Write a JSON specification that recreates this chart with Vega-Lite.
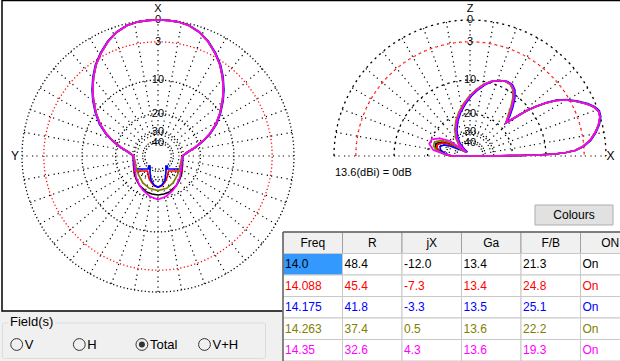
{
"$schema":"https://vega.github.io/schema/vega-lite/v6.json",
"width":620,"height":361,"padding":0,"autosize":{"type":"none"},
"background":"#ffffff",
"config":{"view":{"stroke":null},"font":"Liberation Sans","text":{"font":"Liberation Sans"}},
"datasets":{
"rings":[{"db":0,"lab":"0","r":1},{"db":-3,"lab":"3","r":0.8396},{"db":-10,"lab":"10","r":0.5584},{"db":-20,"lab":"20","r":0.3118},{"db":-30,"lab":"30","r":0.1741},{"db":-40,"lab":"40","r":0.0972}],
"spokesL":[{"ang":0},{"ang":10},{"ang":20},{"ang":30},{"ang":40},{"ang":50},{"ang":60},{"ang":70},{"ang":80},{"ang":90},{"ang":100},{"ang":110},{"ang":120},{"ang":130},{"ang":140},{"ang":150},{"ang":160},{"ang":170},{"ang":180},{"ang":190},{"ang":200},{"ang":210},{"ang":220},{"ang":230},{"ang":240},{"ang":250},{"ang":260},{"ang":270},{"ang":280},{"ang":290},{"ang":300},{"ang":310},{"ang":320},{"ang":330},{"ang":340},{"ang":350}],
"spokesR":[{"ang":0},{"ang":10},{"ang":20},{"ang":30},{"ang":40},{"ang":50},{"ang":60},{"ang":70},{"ang":80},{"ang":90},{"ang":100},{"ang":110},{"ang":120},{"ang":130},{"ang":140},{"ang":150},{"ang":160},{"ang":170},{"ang":180}],
"az":[
{"freq":"14.0","i":0,"x":0.1801,"y":0},{"freq":"14.0","i":1,"x":0.2132,"y":0.0257},{"freq":"14.0","i":2,"x":0.2721,"y":0.0625},{"freq":"14.0","i":3,"x":0.3309,"y":0.1103},{"freq":"14.0","i":4,"x":0.3824,"y":0.1654},{"freq":"14.0","i":5,"x":0.4265,"y":0.2353},{"freq":"14.0","i":6,"x":0.4559,"y":0.3162},{"freq":"14.0","i":7,"x":0.4743,"y":0.4044},{"freq":"14.0","i":8,"x":0.4801,"y":0.4853},{"freq":"14.0","i":9,"x":0.4743,"y":0.5809},{"freq":"14.0","i":10,"x":0.4559,"y":0.6691},{"freq":"14.0","i":11,"x":0.4191,"y":0.7574},{"freq":"14.0","i":12,"x":0.3676,"y":0.8419},{"freq":"14.0","i":13,"x":0.3015,"y":0.9118},{"freq":"14.0","i":14,"x":0.2279,"y":0.9596},{"freq":"14.0","i":15,"x":0.1471,"y":0.9868},{"freq":"14.0","i":16,"x":0.0735,"y":0.9978},{"freq":"14.0","i":17,"x":0,"y":1},{"freq":"14.0","i":18,"x":-0.0735,"y":0.9978},{"freq":"14.0","i":19,"x":-0.1471,"y":0.9868},{"freq":"14.0","i":20,"x":-0.2279,"y":0.9596},{"freq":"14.0","i":21,"x":-0.3015,"y":0.9118},{"freq":"14.0","i":22,"x":-0.3676,"y":0.8419},{"freq":"14.0","i":23,"x":-0.4191,"y":0.7574},{"freq":"14.0","i":24,"x":-0.4559,"y":0.6691},{"freq":"14.0","i":25,"x":-0.4743,"y":0.5809},{"freq":"14.0","i":26,"x":-0.4801,"y":0.4853},{"freq":"14.0","i":27,"x":-0.4743,"y":0.4044},{"freq":"14.0","i":28,"x":-0.4559,"y":0.3162},{"freq":"14.0","i":29,"x":-0.4265,"y":0.2353},{"freq":"14.0","i":30,"x":-0.3824,"y":0.1654},{"freq":"14.0","i":31,"x":-0.3309,"y":0.1103},{"freq":"14.0","i":32,"x":-0.2721,"y":0.0625},{"freq":"14.0","i":33,"x":-0.2132,"y":0.0257},{"freq":"14.0","i":34,"x":-0.1801,"y":0},
{"freq":"14.0","i":35,"x":-0.1801,"y":-0.0662},{"freq":"14.0","i":36,"x":-0.1743,"y":-0.1272},{"freq":"14.0","i":37,"x":-0.1581,"y":-0.1765},{"freq":"14.0","i":38,"x":-0.1375,"y":-0.2132},{"freq":"14.0","i":39,"x":-0.0882,"y":-0.2625},{"freq":"14.0","i":40,"x":-0.0441,"y":-0.2794},{"freq":"14.0","i":41,"x":0,"y":-0.2868},{"freq":"14.0","i":42,"x":0.0441,"y":-0.2794},{"freq":"14.0","i":43,"x":0.0882,"y":-0.2625},{"freq":"14.0","i":44,"x":0.1375,"y":-0.2132},{"freq":"14.0","i":45,"x":0.1581,"y":-0.1765},{"freq":"14.0","i":46,"x":0.1743,"y":-0.1272},{"freq":"14.0","i":47,"x":0.1801,"y":-0.0662},{"freq":"14.0","i":48,"x":0.1801,"y":0},
{"freq":"14.088","i":0,"x":0.1801,"y":0},{"freq":"14.088","i":1,"x":0.2132,"y":0.0257},{"freq":"14.088","i":2,"x":0.2721,"y":0.0625},{"freq":"14.088","i":3,"x":0.3309,"y":0.1103},{"freq":"14.088","i":4,"x":0.3824,"y":0.1654},{"freq":"14.088","i":5,"x":0.4265,"y":0.2353},{"freq":"14.088","i":6,"x":0.4559,"y":0.3162},{"freq":"14.088","i":7,"x":0.4743,"y":0.4044},{"freq":"14.088","i":8,"x":0.4801,"y":0.4853},{"freq":"14.088","i":9,"x":0.4743,"y":0.5809},{"freq":"14.088","i":10,"x":0.4559,"y":0.6691},{"freq":"14.088","i":11,"x":0.4191,"y":0.7574},{"freq":"14.088","i":12,"x":0.3676,"y":0.8419},{"freq":"14.088","i":13,"x":0.3015,"y":0.9118},{"freq":"14.088","i":14,"x":0.2279,"y":0.9596},{"freq":"14.088","i":15,"x":0.1471,"y":0.9868},{"freq":"14.088","i":16,"x":0.0735,"y":0.9978},{"freq":"14.088","i":17,"x":0,"y":1},{"freq":"14.088","i":18,"x":-0.0735,"y":0.9978},{"freq":"14.088","i":19,"x":-0.1471,"y":0.9868},{"freq":"14.088","i":20,"x":-0.2279,"y":0.9596},{"freq":"14.088","i":21,"x":-0.3015,"y":0.9118},{"freq":"14.088","i":22,"x":-0.3676,"y":0.8419},{"freq":"14.088","i":23,"x":-0.4191,"y":0.7574},{"freq":"14.088","i":24,"x":-0.4559,"y":0.6691},{"freq":"14.088","i":25,"x":-0.4743,"y":0.5809},{"freq":"14.088","i":26,"x":-0.4801,"y":0.4853},{"freq":"14.088","i":27,"x":-0.4743,"y":0.4044},{"freq":"14.088","i":28,"x":-0.4559,"y":0.3162},{"freq":"14.088","i":29,"x":-0.4265,"y":0.2353},{"freq":"14.088","i":30,"x":-0.3824,"y":0.1654},{"freq":"14.088","i":31,"x":-0.3309,"y":0.1103},{"freq":"14.088","i":32,"x":-0.2721,"y":0.0625},{"freq":"14.088","i":33,"x":-0.2132,"y":0.0257},{"freq":"14.088","i":34,"x":-0.1801,"y":0},
{"freq":"14.088","i":35,"x":-0.1765,"y":-0.1103},{"freq":"14.088","i":36,"x":-0.0772,"y":-0.1103},{"freq":"14.088","i":37,"x":-0.0699,"y":-0.1471},{"freq":"14.088","i":38,"x":-0.0515,"y":-0.1912},{"freq":"14.088","i":39,"x":-0.0257,"y":-0.2206},{"freq":"14.088","i":40,"x":0,"y":-0.2279},{"freq":"14.088","i":41,"x":0.0257,"y":-0.2206},{"freq":"14.088","i":42,"x":0.0515,"y":-0.1912},{"freq":"14.088","i":43,"x":0.0699,"y":-0.1471},{"freq":"14.088","i":44,"x":0.0772,"y":-0.1103},{"freq":"14.088","i":45,"x":0.1765,"y":-0.1103},{"freq":"14.088","i":46,"x":0.1801,"y":0},
{"freq":"14.175","i":0,"x":0.1819,"y":0},{"freq":"14.175","i":1,"x":0.2153,"y":0.0257},{"freq":"14.175","i":2,"x":0.2748,"y":0.0625},{"freq":"14.175","i":3,"x":0.3342,"y":0.1103},{"freq":"14.175","i":4,"x":0.3862,"y":0.1654},{"freq":"14.175","i":5,"x":0.4308,"y":0.2353},{"freq":"14.175","i":6,"x":0.4605,"y":0.3162},{"freq":"14.175","i":7,"x":0.479,"y":0.4044},{"freq":"14.175","i":8,"x":0.4849,"y":0.4853},{"freq":"14.175","i":9,"x":0.479,"y":0.5809},{"freq":"14.175","i":10,"x":0.4605,"y":0.6691},{"freq":"14.175","i":11,"x":0.4233,"y":0.7574},{"freq":"14.175","i":12,"x":0.3713,"y":0.8419},{"freq":"14.175","i":13,"x":0.3045,"y":0.9118},{"freq":"14.175","i":14,"x":0.2302,"y":0.9596},{"freq":"14.175","i":15,"x":0.1486,"y":0.9868},{"freq":"14.175","i":16,"x":0.0742,"y":0.9978},{"freq":"14.175","i":17,"x":0,"y":1},{"freq":"14.175","i":18,"x":-0.0742,"y":0.9978},{"freq":"14.175","i":19,"x":-0.1486,"y":0.9868},{"freq":"14.175","i":20,"x":-0.2302,"y":0.9596},{"freq":"14.175","i":21,"x":-0.3045,"y":0.9118},{"freq":"14.175","i":22,"x":-0.3713,"y":0.8419},{"freq":"14.175","i":23,"x":-0.4233,"y":0.7574},{"freq":"14.175","i":24,"x":-0.4605,"y":0.6691},{"freq":"14.175","i":25,"x":-0.479,"y":0.5809},{"freq":"14.175","i":26,"x":-0.4849,"y":0.4853},{"freq":"14.175","i":27,"x":-0.479,"y":0.4044},{"freq":"14.175","i":28,"x":-0.4605,"y":0.3162},{"freq":"14.175","i":29,"x":-0.4308,"y":0.2353},{"freq":"14.175","i":30,"x":-0.3862,"y":0.1654},{"freq":"14.175","i":31,"x":-0.3342,"y":0.1103},{"freq":"14.175","i":32,"x":-0.2748,"y":0.0625},{"freq":"14.175","i":33,"x":-0.2153,"y":0.0257},{"freq":"14.175","i":34,"x":-0.1819,"y":0},
{"freq":"14.175","i":35,"x":-0.1728,"y":-0.0956},{"freq":"14.175","i":36,"x":-0.0684,"y":-0.0956},{"freq":"14.175","i":37,"x":-0.0684,"y":-0.0735},{"freq":"14.175","i":38,"x":-0.0588,"y":-0.0735},{"freq":"14.175","i":39,"x":-0.0588,"y":-0.1176},{"freq":"14.175","i":40,"x":-0.0515,"y":-0.1765},{"freq":"14.175","i":41,"x":-0.0294,"y":-0.2132},{"freq":"14.175","i":42,"x":0,"y":-0.2301},{"freq":"14.175","i":43,"x":0.0294,"y":-0.2132},{"freq":"14.175","i":44,"x":0.0515,"y":-0.1765},{"freq":"14.175","i":45,"x":0.0588,"y":-0.1176},{"freq":"14.175","i":46,"x":0.0588,"y":-0.0735},{"freq":"14.175","i":47,"x":0.0684,"y":-0.0735},{"freq":"14.175","i":48,"x":0.0684,"y":-0.0956},{"freq":"14.175","i":49,"x":0.1728,"y":-0.0956},{"freq":"14.175","i":50,"x":0.1819,"y":0},
{"freq":"14.263","i":0,"x":0.1801,"y":0},{"freq":"14.263","i":1,"x":0.2132,"y":0.0257},{"freq":"14.263","i":2,"x":0.2721,"y":0.0625},{"freq":"14.263","i":3,"x":0.3309,"y":0.1103},{"freq":"14.263","i":4,"x":0.3824,"y":0.1654},{"freq":"14.263","i":5,"x":0.4265,"y":0.2353},{"freq":"14.263","i":6,"x":0.4559,"y":0.3162},{"freq":"14.263","i":7,"x":0.4743,"y":0.4044},{"freq":"14.263","i":8,"x":0.4801,"y":0.4853},{"freq":"14.263","i":9,"x":0.4743,"y":0.5809},{"freq":"14.263","i":10,"x":0.4559,"y":0.6691},{"freq":"14.263","i":11,"x":0.4191,"y":0.7574},{"freq":"14.263","i":12,"x":0.3676,"y":0.8419},{"freq":"14.263","i":13,"x":0.3015,"y":0.9118},{"freq":"14.263","i":14,"x":0.2279,"y":0.9596},{"freq":"14.263","i":15,"x":0.1471,"y":0.9868},{"freq":"14.263","i":16,"x":0.0735,"y":0.9978},{"freq":"14.263","i":17,"x":0,"y":1},{"freq":"14.263","i":18,"x":-0.0735,"y":0.9978},{"freq":"14.263","i":19,"x":-0.1471,"y":0.9868},{"freq":"14.263","i":20,"x":-0.2279,"y":0.9596},{"freq":"14.263","i":21,"x":-0.3015,"y":0.9118},{"freq":"14.263","i":22,"x":-0.3676,"y":0.8419},{"freq":"14.263","i":23,"x":-0.4191,"y":0.7574},{"freq":"14.263","i":24,"x":-0.4559,"y":0.6691},{"freq":"14.263","i":25,"x":-0.4743,"y":0.5809},{"freq":"14.263","i":26,"x":-0.4801,"y":0.4853},{"freq":"14.263","i":27,"x":-0.4743,"y":0.4044},{"freq":"14.263","i":28,"x":-0.4559,"y":0.3162},{"freq":"14.263","i":29,"x":-0.4265,"y":0.2353},{"freq":"14.263","i":30,"x":-0.3824,"y":0.1654},{"freq":"14.263","i":31,"x":-0.3309,"y":0.1103},{"freq":"14.263","i":32,"x":-0.2721,"y":0.0625},{"freq":"14.263","i":33,"x":-0.2132,"y":0.0257},{"freq":"14.263","i":34,"x":-0.1801,"y":0},
{"freq":"14.263","i":35,"x":-0.1691,"y":-0.0368},{"freq":"14.263","i":36,"x":-0.1618,"y":-0.0809},{"freq":"14.263","i":37,"x":-0.1434,"y":-0.1397},{"freq":"14.263","i":38,"x":-0.1103,"y":-0.1985},{"freq":"14.263","i":39,"x":-0.064,"y":-0.2375},{"freq":"14.263","i":40,"x":0,"y":-0.2551},{"freq":"14.263","i":41,"x":0.064,"y":-0.2375},{"freq":"14.263","i":42,"x":0.1103,"y":-0.1985},{"freq":"14.263","i":43,"x":0.1434,"y":-0.1397},{"freq":"14.263","i":44,"x":0.1618,"y":-0.0809},{"freq":"14.263","i":45,"x":0.1691,"y":-0.0368},{"freq":"14.263","i":46,"x":0.1801,"y":0},
{"freq":"14.35","i":0,"x":0.1801,"y":0},{"freq":"14.35","i":1,"x":0.2132,"y":0.0257},{"freq":"14.35","i":2,"x":0.2721,"y":0.0625},{"freq":"14.35","i":3,"x":0.3309,"y":0.1103},{"freq":"14.35","i":4,"x":0.3824,"y":0.1654},{"freq":"14.35","i":5,"x":0.4265,"y":0.2353},{"freq":"14.35","i":6,"x":0.4559,"y":0.3162},{"freq":"14.35","i":7,"x":0.4743,"y":0.4044},{"freq":"14.35","i":8,"x":0.4801,"y":0.4853},{"freq":"14.35","i":9,"x":0.4743,"y":0.5809},{"freq":"14.35","i":10,"x":0.4559,"y":0.6691},{"freq":"14.35","i":11,"x":0.4191,"y":0.7574},{"freq":"14.35","i":12,"x":0.3676,"y":0.8419},{"freq":"14.35","i":13,"x":0.3015,"y":0.9118},{"freq":"14.35","i":14,"x":0.2279,"y":0.9596},{"freq":"14.35","i":15,"x":0.1471,"y":0.9868},{"freq":"14.35","i":16,"x":0.0735,"y":0.9978},{"freq":"14.35","i":17,"x":0,"y":1},{"freq":"14.35","i":18,"x":-0.0735,"y":0.9978},{"freq":"14.35","i":19,"x":-0.1471,"y":0.9868},{"freq":"14.35","i":20,"x":-0.2279,"y":0.9596},{"freq":"14.35","i":21,"x":-0.3015,"y":0.9118},{"freq":"14.35","i":22,"x":-0.3676,"y":0.8419},{"freq":"14.35","i":23,"x":-0.4191,"y":0.7574},{"freq":"14.35","i":24,"x":-0.4559,"y":0.6691},{"freq":"14.35","i":25,"x":-0.4743,"y":0.5809},{"freq":"14.35","i":26,"x":-0.4801,"y":0.4853},{"freq":"14.35","i":27,"x":-0.4743,"y":0.4044},{"freq":"14.35","i":28,"x":-0.4559,"y":0.3162},{"freq":"14.35","i":29,"x":-0.4265,"y":0.2353},{"freq":"14.35","i":30,"x":-0.3824,"y":0.1654},{"freq":"14.35","i":31,"x":-0.3309,"y":0.1103},{"freq":"14.35","i":32,"x":-0.2721,"y":0.0625},{"freq":"14.35","i":33,"x":-0.2132,"y":0.0257},{"freq":"14.35","i":34,"x":-0.1801,"y":0},
{"freq":"14.35","i":35,"x":-0.1728,"y":-0.0662},{"freq":"14.35","i":36,"x":-0.1618,"y":-0.1522},{"freq":"14.35","i":37,"x":-0.1397,"y":-0.2059},{"freq":"14.35","i":38,"x":-0.1125,"y":-0.25},{"freq":"14.35","i":39,"x":-0.0588,"y":-0.2978},{"freq":"14.35","i":40,"x":0,"y":-0.3199},{"freq":"14.35","i":41,"x":0.0588,"y":-0.2978},{"freq":"14.35","i":42,"x":0.1125,"y":-0.25},{"freq":"14.35","i":43,"x":0.1397,"y":-0.2059},{"freq":"14.35","i":44,"x":0.1618,"y":-0.1522},{"freq":"14.35","i":45,"x":0.1728,"y":-0.0662},{"freq":"14.35","i":46,"x":0.1801,"y":0}
],
"el":[
{"freq":"14.0","i":0,"x":-0.1324,"y":0},{"freq":"14.0","i":1,"x":0,"y":0},{"freq":"14.0","i":2,"x":0.2206,"y":0.0015},{"freq":"14.0","i":3,"x":0.3676,"y":0.0037},{"freq":"14.0","i":4,"x":0.4926,"y":0.0074},{"freq":"14.0","i":5,"x":0.625,"y":0.0147},{"freq":"14.0","i":6,"x":0.7059,"y":0.0257},{"freq":"14.0","i":7,"x":0.7721,"y":0.0404},{"freq":"14.0","i":8,"x":0.8309,"y":0.0699},{"freq":"14.0","i":9,"x":0.8824,"y":0.114},{"freq":"14.0","i":10,"x":0.9191,"y":0.1691},{"freq":"14.0","i":11,"x":0.9449,"y":0.2279},{"freq":"14.0","i":12,"x":0.9559,"y":0.2868},{"freq":"14.0","i":13,"x":0.9449,"y":0.3309},{"freq":"14.0","i":14,"x":0.9118,"y":0.3603},{"freq":"14.0","i":15,"x":0.8603,"y":0.3824},{"freq":"14.0","i":16,"x":0.7868,"y":0.4007},{"freq":"14.0","i":17,"x":0.7059,"y":0.4118},{"freq":"14.0","i":18,"x":0.6324,"y":0.4081},{"freq":"14.0","i":19,"x":0.5588,"y":0.3897},{"freq":"14.0","i":20,"x":0.4853,"y":0.364},{"freq":"14.0","i":21,"x":0.4118,"y":0.3309},{"freq":"14.0","i":22,"x":0.3382,"y":0.2868},{"freq":"14.0","i":23,"x":0.2647,"y":0.2449},
{"freq":"14.0","i":24,"x":0.2831,"y":0.2941},{"freq":"14.0","i":25,"x":0.3051,"y":0.3603},{"freq":"14.0","i":26,"x":0.3199,"y":0.4265},{"freq":"14.0","i":27,"x":0.3199,"y":0.4853},{"freq":"14.0","i":28,"x":0.3015,"y":0.5257},{"freq":"14.0","i":29,"x":0.2647,"y":0.5478},{"freq":"14.0","i":30,"x":0.2132,"y":0.5551},{"freq":"14.0","i":31,"x":0.1544,"y":0.5478},{"freq":"14.0","i":32,"x":0.1029,"y":0.5257},{"freq":"14.0","i":33,"x":0.0515,"y":0.489},{"freq":"14.0","i":34,"x":0,"y":0.4412},{"freq":"14.0","i":35,"x":-0.0441,"y":0.3824},{"freq":"14.0","i":36,"x":-0.0772,"y":0.3235},{"freq":"14.0","i":37,"x":-0.0993,"y":0.2574},{"freq":"14.0","i":38,"x":-0.1066,"y":0.1912},{"freq":"14.0","i":39,"x":-0.0993,"y":0.1324},{"freq":"14.0","i":40,"x":-0.0809,"y":0.0882},{"freq":"14.0","i":41,"x":-0.0515,"y":0.0515},{"freq":"14.0","i":42,"x":-0.0294,"y":0.0294},
{"freq":"14.0","i":43,"x":-0.0882,"y":0.0588},{"freq":"14.0","i":44,"x":-0.1471,"y":0.0919},{"freq":"14.0","i":45,"x":-0.2059,"y":0.1029},{"freq":"14.0","i":46,"x":-0.25,"y":0.0919},{"freq":"14.0","i":47,"x":-0.2537,"y":0.0662},{"freq":"14.0","i":48,"x":-0.2279,"y":0.0368},{"freq":"14.0","i":49,"x":-0.1838,"y":0.0147},{"freq":"14.0","i":50,"x":-0.1471,"y":0.0037},{"freq":"14.0","i":51,"x":-0.1324,"y":0},
{"freq":"14.088","i":0,"x":-0.1324,"y":0},{"freq":"14.088","i":1,"x":0,"y":0},{"freq":"14.088","i":2,"x":0.2206,"y":0.0015},{"freq":"14.088","i":3,"x":0.3676,"y":0.0037},{"freq":"14.088","i":4,"x":0.4926,"y":0.0074},{"freq":"14.088","i":5,"x":0.625,"y":0.0147},{"freq":"14.088","i":6,"x":0.7059,"y":0.0257},{"freq":"14.088","i":7,"x":0.7721,"y":0.0404},{"freq":"14.088","i":8,"x":0.8309,"y":0.0699},{"freq":"14.088","i":9,"x":0.8824,"y":0.114},{"freq":"14.088","i":10,"x":0.9191,"y":0.1691},{"freq":"14.088","i":11,"x":0.9449,"y":0.2279},{"freq":"14.088","i":12,"x":0.9559,"y":0.2868},{"freq":"14.088","i":13,"x":0.9449,"y":0.3309},{"freq":"14.088","i":14,"x":0.9118,"y":0.3603},{"freq":"14.088","i":15,"x":0.8603,"y":0.3824},{"freq":"14.088","i":16,"x":0.7868,"y":0.4007},{"freq":"14.088","i":17,"x":0.7059,"y":0.4118},{"freq":"14.088","i":18,"x":0.6324,"y":0.4081},{"freq":"14.088","i":19,"x":0.5588,"y":0.3897},{"freq":"14.088","i":20,"x":0.4853,"y":0.364},{"freq":"14.088","i":21,"x":0.4118,"y":0.3309},{"freq":"14.088","i":22,"x":0.3382,"y":0.2868},{"freq":"14.088","i":23,"x":0.2647,"y":0.2449},
{"freq":"14.088","i":24,"x":0.2881,"y":0.2941},{"freq":"14.088","i":25,"x":0.3101,"y":0.3603},{"freq":"14.088","i":26,"x":0.3249,"y":0.4265},{"freq":"14.088","i":27,"x":0.3249,"y":0.4853},{"freq":"14.088","i":28,"x":0.3065,"y":0.5257},{"freq":"14.088","i":29,"x":0.2697,"y":0.5478},{"freq":"14.088","i":30,"x":0.2182,"y":0.5551},{"freq":"14.088","i":31,"x":0.1594,"y":0.5478},{"freq":"14.088","i":32,"x":0.1079,"y":0.5257},{"freq":"14.088","i":33,"x":0.0565,"y":0.489},{"freq":"14.088","i":34,"x":0.005,"y":0.4412},{"freq":"14.088","i":35,"x":-0.0391,"y":0.3824},{"freq":"14.088","i":36,"x":-0.0722,"y":0.3235},{"freq":"14.088","i":37,"x":-0.0943,"y":0.2574},{"freq":"14.088","i":38,"x":-0.1016,"y":0.1912},{"freq":"14.088","i":39,"x":-0.0943,"y":0.1324},{"freq":"14.088","i":40,"x":-0.0759,"y":0.0882},{"freq":"14.088","i":41,"x":-0.0465,"y":0.0515},{"freq":"14.088","i":42,"x":-0.0244,"y":0.0294},
{"freq":"14.088","i":43,"x":-0.0882,"y":0.0551},{"freq":"14.088","i":44,"x":-0.1471,"y":0.0846},{"freq":"14.088","i":45,"x":-0.1985,"y":0.0956},{"freq":"14.088","i":46,"x":-0.239,"y":0.0846},{"freq":"14.088","i":47,"x":-0.2426,"y":0.0588},{"freq":"14.088","i":48,"x":-0.2169,"y":0.0331},{"freq":"14.088","i":49,"x":-0.1765,"y":0.011},{"freq":"14.088","i":50,"x":-0.1471,"y":0.0022},{"freq":"14.088","i":51,"x":-0.1324,"y":0},
{"freq":"14.175","i":0,"x":-0.1324,"y":0},{"freq":"14.175","i":1,"x":0,"y":0},{"freq":"14.175","i":2,"x":0.2206,"y":0.0015},{"freq":"14.175","i":3,"x":0.3676,"y":0.0037},{"freq":"14.175","i":4,"x":0.4926,"y":0.0074},{"freq":"14.175","i":5,"x":0.625,"y":0.0147},{"freq":"14.175","i":6,"x":0.7059,"y":0.0257},{"freq":"14.175","i":7,"x":0.7721,"y":0.0404},{"freq":"14.175","i":8,"x":0.8359,"y":0.0703},{"freq":"14.175","i":9,"x":0.8877,"y":0.1147},{"freq":"14.175","i":10,"x":0.9246,"y":0.1701},{"freq":"14.175","i":11,"x":0.9506,"y":0.2293},{"freq":"14.175","i":12,"x":0.9616,"y":0.2885},{"freq":"14.175","i":13,"x":0.9506,"y":0.3329},{"freq":"14.175","i":14,"x":0.9173,"y":0.3625},{"freq":"14.175","i":15,"x":0.8655,"y":0.3847},{"freq":"14.175","i":16,"x":0.7915,"y":0.4031},{"freq":"14.175","i":17,"x":0.7101,"y":0.4143},{"freq":"14.175","i":18,"x":0.6362,"y":0.4106},{"freq":"14.175","i":19,"x":0.5622,"y":0.392},{"freq":"14.175","i":20,"x":0.4882,"y":0.3662},{"freq":"14.175","i":21,"x":0.4118,"y":0.3309},{"freq":"14.175","i":22,"x":0.3382,"y":0.2868},{"freq":"14.175","i":23,"x":0.2647,"y":0.2449},
{"freq":"14.175","i":24,"x":0.2931,"y":0.2941},{"freq":"14.175","i":25,"x":0.3151,"y":0.3603},{"freq":"14.175","i":26,"x":0.3299,"y":0.4265},{"freq":"14.175","i":27,"x":0.3299,"y":0.4853},{"freq":"14.175","i":28,"x":0.3115,"y":0.5257},{"freq":"14.175","i":29,"x":0.2747,"y":0.5478},{"freq":"14.175","i":30,"x":0.2232,"y":0.5551},{"freq":"14.175","i":31,"x":0.1644,"y":0.5478},{"freq":"14.175","i":32,"x":0.1129,"y":0.5257},{"freq":"14.175","i":33,"x":0.0615,"y":0.489},{"freq":"14.175","i":34,"x":0.01,"y":0.4412},{"freq":"14.175","i":35,"x":-0.0341,"y":0.3824},{"freq":"14.175","i":36,"x":-0.0672,"y":0.3235},{"freq":"14.175","i":37,"x":-0.0893,"y":0.2574},{"freq":"14.175","i":38,"x":-0.0966,"y":0.1912},{"freq":"14.175","i":39,"x":-0.0893,"y":0.1324},{"freq":"14.175","i":40,"x":-0.0709,"y":0.0882},{"freq":"14.175","i":41,"x":-0.0415,"y":0.0515},{"freq":"14.175","i":42,"x":-0.0194,"y":0.0294},
{"freq":"14.175","i":43,"x":-0.0882,"y":0.0515},{"freq":"14.175","i":44,"x":-0.1471,"y":0.0735},{"freq":"14.175","i":45,"x":-0.1912,"y":0.0809},{"freq":"14.175","i":46,"x":-0.2206,"y":0.0699},{"freq":"14.175","i":47,"x":-0.2169,"y":0.0441},{"freq":"14.175","i":48,"x":-0.1838,"y":0.0184},{"freq":"14.175","i":49,"x":-0.1397,"y":0.0022},{"freq":"14.175","i":50,"x":-0.1324,"y":0},
{"freq":"14.263","i":0,"x":-0.1324,"y":0},{"freq":"14.263","i":1,"x":0,"y":0},{"freq":"14.263","i":2,"x":0.2206,"y":0.0015},{"freq":"14.263","i":3,"x":0.3676,"y":0.0037},{"freq":"14.263","i":4,"x":0.4926,"y":0.0074},{"freq":"14.263","i":5,"x":0.625,"y":0.0147},{"freq":"14.263","i":6,"x":0.7059,"y":0.0257},{"freq":"14.263","i":7,"x":0.7721,"y":0.0404},{"freq":"14.263","i":8,"x":0.8309,"y":0.0699},{"freq":"14.263","i":9,"x":0.8824,"y":0.114},{"freq":"14.263","i":10,"x":0.9191,"y":0.1691},{"freq":"14.263","i":11,"x":0.9449,"y":0.2279},{"freq":"14.263","i":12,"x":0.9559,"y":0.2868},{"freq":"14.263","i":13,"x":0.9449,"y":0.3309},{"freq":"14.263","i":14,"x":0.9118,"y":0.3603},{"freq":"14.263","i":15,"x":0.8603,"y":0.3824},{"freq":"14.263","i":16,"x":0.7868,"y":0.4007},{"freq":"14.263","i":17,"x":0.7059,"y":0.4118},{"freq":"14.263","i":18,"x":0.6324,"y":0.4081},{"freq":"14.263","i":19,"x":0.5588,"y":0.3897},{"freq":"14.263","i":20,"x":0.4853,"y":0.364},{"freq":"14.263","i":21,"x":0.4118,"y":0.3309},{"freq":"14.263","i":22,"x":0.3382,"y":0.2868},{"freq":"14.263","i":23,"x":0.2647,"y":0.2449},
{"freq":"14.263","i":24,"x":0.2781,"y":0.2941},{"freq":"14.263","i":25,"x":0.3001,"y":0.3603},{"freq":"14.263","i":26,"x":0.3149,"y":0.4265},{"freq":"14.263","i":27,"x":0.3149,"y":0.4853},{"freq":"14.263","i":28,"x":0.2965,"y":0.5257},{"freq":"14.263","i":29,"x":0.2597,"y":0.5478},{"freq":"14.263","i":30,"x":0.2082,"y":0.5551},{"freq":"14.263","i":31,"x":0.1494,"y":0.5478},{"freq":"14.263","i":32,"x":0.0979,"y":0.5257},{"freq":"14.263","i":33,"x":0.0465,"y":0.489},{"freq":"14.263","i":34,"x":-0.005,"y":0.4412},{"freq":"14.263","i":35,"x":-0.0491,"y":0.3824},{"freq":"14.263","i":36,"x":-0.0822,"y":0.3235},{"freq":"14.263","i":37,"x":-0.1043,"y":0.2574},{"freq":"14.263","i":38,"x":-0.1116,"y":0.1912},{"freq":"14.263","i":39,"x":-0.1043,"y":0.1324},{"freq":"14.263","i":40,"x":-0.0859,"y":0.0882},{"freq":"14.263","i":41,"x":-0.0565,"y":0.0515},{"freq":"14.263","i":42,"x":-0.0344,"y":0.0294},
{"freq":"14.263","i":43,"x":-0.0882,"y":0.0625},{"freq":"14.263","i":44,"x":-0.1471,"y":0.0993},{"freq":"14.263","i":45,"x":-0.2132,"y":0.114},{"freq":"14.263","i":46,"x":-0.261,"y":0.1029},{"freq":"14.263","i":47,"x":-0.2684,"y":0.0735},{"freq":"14.263","i":48,"x":-0.2426,"y":0.0404},{"freq":"14.263","i":49,"x":-0.1912,"y":0.0147},{"freq":"14.263","i":50,"x":-0.1471,"y":0.0037},{"freq":"14.263","i":51,"x":-0.1324,"y":0},
{"freq":"14.35","i":0,"x":-0.1324,"y":0},{"freq":"14.35","i":1,"x":0,"y":0},{"freq":"14.35","i":2,"x":0.2206,"y":0.0015},{"freq":"14.35","i":3,"x":0.3676,"y":0.0037},{"freq":"14.35","i":4,"x":0.4926,"y":0.0074},{"freq":"14.35","i":5,"x":0.625,"y":0.0147},{"freq":"14.35","i":6,"x":0.7059,"y":0.0257},{"freq":"14.35","i":7,"x":0.7721,"y":0.0404},{"freq":"14.35","i":8,"x":0.8309,"y":0.0699},{"freq":"14.35","i":9,"x":0.8824,"y":0.114},{"freq":"14.35","i":10,"x":0.9191,"y":0.1691},{"freq":"14.35","i":11,"x":0.9449,"y":0.2279},{"freq":"14.35","i":12,"x":0.9559,"y":0.2868},{"freq":"14.35","i":13,"x":0.9449,"y":0.3309},{"freq":"14.35","i":14,"x":0.9118,"y":0.3603},{"freq":"14.35","i":15,"x":0.8603,"y":0.3824},{"freq":"14.35","i":16,"x":0.7868,"y":0.4007},{"freq":"14.35","i":17,"x":0.7059,"y":0.4118},{"freq":"14.35","i":18,"x":0.6324,"y":0.4081},{"freq":"14.35","i":19,"x":0.5588,"y":0.3897},{"freq":"14.35","i":20,"x":0.4853,"y":0.364},{"freq":"14.35","i":21,"x":0.4118,"y":0.3309},{"freq":"14.35","i":22,"x":0.3382,"y":0.2868},{"freq":"14.35","i":23,"x":0.2647,"y":0.2449},
{"freq":"14.35","i":24,"x":0.2861,"y":0.2941},{"freq":"14.35","i":25,"x":0.3081,"y":0.3603},{"freq":"14.35","i":26,"x":0.3229,"y":0.4265},{"freq":"14.35","i":27,"x":0.3229,"y":0.4853},{"freq":"14.35","i":28,"x":0.3045,"y":0.5257},{"freq":"14.35","i":29,"x":0.2677,"y":0.5478},{"freq":"14.35","i":30,"x":0.2162,"y":0.5551},{"freq":"14.35","i":31,"x":0.1574,"y":0.5478},{"freq":"14.35","i":32,"x":0.1059,"y":0.5257},{"freq":"14.35","i":33,"x":0.0545,"y":0.489},{"freq":"14.35","i":34,"x":0.003,"y":0.4412},{"freq":"14.35","i":35,"x":-0.0411,"y":0.3824},{"freq":"14.35","i":36,"x":-0.0742,"y":0.3235},{"freq":"14.35","i":37,"x":-0.0963,"y":0.2574},{"freq":"14.35","i":38,"x":-0.1036,"y":0.1912},{"freq":"14.35","i":39,"x":-0.0963,"y":0.1324},{"freq":"14.35","i":40,"x":-0.0779,"y":0.0882},{"freq":"14.35","i":41,"x":-0.0485,"y":0.0515},{"freq":"14.35","i":42,"x":-0.0264,"y":0.0294},
{"freq":"14.35","i":43,"x":-0.086,"y":0.0684},{"freq":"14.35","i":44,"x":-0.1471,"y":0.1103},{"freq":"14.35","i":45,"x":-0.2206,"y":0.1301},{"freq":"14.35","i":46,"x":-0.2816,"y":0.1228},{"freq":"14.35","i":47,"x":-0.2993,"y":0.0882},{"freq":"14.35","i":48,"x":-0.2699,"y":0.0441},{"freq":"14.35","i":49,"x":-0.2081,"y":0.0199},{"freq":"14.35","i":50,"x":-0.1471,"y":0.0051},{"freq":"14.35","i":51,"x":-0.1324,"y":0}
],
"cells":[
{"row":"head","col":"Freq","val":"Freq"},{"row":"head","col":"R","val":"R"},{"row":"head","col":"jX","val":"jX"},{"row":"head","col":"Ga","val":"Ga"},{"row":"head","col":"F/B","val":"F/B"},{"row":"head","col":"ON","val":"ON"},
{"row":"14.0","col":"Freq","val":"14.0"},{"row":"14.0","col":"R","val":"48.4"},{"row":"14.0","col":"jX","val":"-12.0"},{"row":"14.0","col":"Ga","val":"13.4"},{"row":"14.0","col":"F/B","val":"21.3"},{"row":"14.0","col":"ON","val":"On"},
{"row":"14.088","col":"Freq","val":"14.088"},{"row":"14.088","col":"R","val":"45.4"},{"row":"14.088","col":"jX","val":"-7.3"},{"row":"14.088","col":"Ga","val":"13.4"},{"row":"14.088","col":"F/B","val":"24.8"},{"row":"14.088","col":"ON","val":"On"},
{"row":"14.175","col":"Freq","val":"14.175"},{"row":"14.175","col":"R","val":"41.8"},{"row":"14.175","col":"jX","val":"-3.3"},{"row":"14.175","col":"Ga","val":"13.5"},{"row":"14.175","col":"F/B","val":"25.1"},{"row":"14.175","col":"ON","val":"On"},
{"row":"14.263","col":"Freq","val":"14.263"},{"row":"14.263","col":"R","val":"37.4"},{"row":"14.263","col":"jX","val":"0.5"},{"row":"14.263","col":"Ga","val":"13.6"},{"row":"14.263","col":"F/B","val":"22.2"},{"row":"14.263","col":"ON","val":"On"},
{"row":"14.35","col":"Freq","val":"14.35"},{"row":"14.35","col":"R","val":"32.6"},{"row":"14.35","col":"jX","val":"4.3"},{"row":"14.35","col":"Ga","val":"13.6"},{"row":"14.35","col":"F/B","val":"19.3"},{"row":"14.35","col":"ON","val":"On"}
],
"radio":[{"opt":"V","sel":false},{"opt":"H","sel":false},{"opt":"Total","sel":true},{"opt":"V+H","sel":false}]
},
"layer":[
{"data":{"values":[{}]},"layer":[
{"mark":{"type":"rect","fill":"#f0f0f0","strokeWidth":0},"encoding":{"x":{"datum":-1.16176,"type":"quantitative","scale":{"type":"linear","domain":[-1.16176,3.39706],"nice":false,"zero":false},"axis":null},"x2":{"datum":0.91912},"y":{"datum":-1.13971,"type":"quantitative","scale":{"type":"linear","domain":[-1.50735,1.14706],"nice":false,"zero":false},"axis":null},"y2":{"datum":-1.50735}}},
{"mark":{"type":"rect","filled":false,"stroke":"#000000","strokeWidth":1.5},"encoding":{"x":{"datum":-1.14706,"type":"quantitative","scale":{"type":"linear","domain":[-1.16176,3.39706],"nice":false,"zero":false},"axis":null},"x2":{"datum":3.98529},"y":{"datum":1.14338,"type":"quantitative","scale":{"type":"linear","domain":[-1.50735,1.14706],"nice":false,"zero":false},"axis":null},"y2":{"datum":-1.13971}}},
{"mark":{"type":"rect","fill":"#e1e1e1","stroke":"#adadad","strokeWidth":1},"encoding":{"x":{"datum":2.77206,"type":"quantitative","scale":{"type":"linear","domain":[-1.16176,3.39706],"nice":false,"zero":false},"axis":null},"x2":{"datum":3.34559},"y":{"datum":-0.36029,"type":"quantitative","scale":{"type":"linear","domain":[-1.50735,1.14706],"nice":false,"zero":false},"axis":null},"y2":{"datum":-0.50735}}},
{"mark":{"type":"text","text":"Colours","fontSize":12,"align":"center","baseline":"middle","color":"#000000"},"encoding":{"x":{"datum":3.05882,"type":"quantitative","scale":{"type":"linear","domain":[-1.16176,3.39706],"nice":false,"zero":false},"axis":null},"y":{"datum":-0.43382,"type":"quantitative","scale":{"type":"linear","domain":[-1.50735,1.14706],"nice":false,"zero":false},"axis":null}}},
{"mark":{"type":"rect","filled":false,"stroke":"#dcdcdc","strokeWidth":1,"cornerRadius":2},"encoding":{"x":{"datum":-1.14338,"type":"quantitative","scale":{"type":"linear","domain":[-1.16176,3.39706],"nice":false,"zero":false},"axis":null},"x2":{"datum":0.79044},"y":{"datum":-1.22794,"type":"quantitative","scale":{"type":"linear","domain":[-1.50735,1.14706],"nice":false,"zero":false},"axis":null},"y2":{"datum":-1.48897}}},
{"mark":{"type":"rect","fill":"#f0f0f0","strokeWidth":0},"encoding":{"x":{"datum":-1.10294,"type":"quantitative","scale":{"type":"linear","domain":[-1.16176,3.39706],"nice":false,"zero":false},"axis":null},"x2":{"datum":-0.75735},"y":{"datum":-1.17647,"type":"quantitative","scale":{"type":"linear","domain":[-1.50735,1.14706],"nice":false,"zero":false},"axis":null},"y2":{"datum":-1.27941}}},
{"mark":{"type":"text","text":"Field(s)","fontSize":13,"align":"left","baseline":"middle","color":"#000000"},"encoding":{"x":{"datum":-1.08824,"type":"quantitative","scale":{"type":"linear","domain":[-1.16176,3.39706],"nice":false,"zero":false},"axis":null},"y":{"datum":-1.21691,"type":"quantitative","scale":{"type":"linear","domain":[-1.50735,1.14706],"nice":false,"zero":false},"axis":null}}}
]},
{"layer":[
{"data":{"name":"rings"},"mark":{"type":"arc","filled":false,"strokeWidth":1.3,"strokeDash":[1.2,2.4],"theta":0,"theta2":6.2832},"encoding":{"x":{"datum":0,"type":"quantitative","scale":{"type":"linear","domain":[-1.16176,3.39706],"nice":false,"zero":false},"axis":null},"y":{"datum":0,"type":"quantitative","scale":{"type":"linear","domain":[-1.50735,1.14706],"nice":false,"zero":false},"axis":null},"radius":{"field":"r","type":"quantitative","stack":null,"scale":{"type":"linear","domain":[0,1],"range":[0,136],"zero":true,"nice":false}},"stroke":{"condition":{"test":"datum.db == -3","value":"#ff0000"},"value":"#000000"}}},
{"data":{"name":"spokesL"},"mark":{"type":"arc","filled":false,"stroke":"#000000","strokeWidth":1.2,"strokeDash":[1.2,8.8]},"encoding":{"x":{"datum":0,"type":"quantitative","scale":{"type":"linear","domain":[-1.16176,3.39706],"nice":false,"zero":false},"axis":null},"y":{"datum":0,"type":"quantitative","scale":{"type":"linear","domain":[-1.50735,1.14706],"nice":false,"zero":false},"axis":null},"theta":{"field":"ang","type":"quantitative","stack":null,"scale":{"type":"linear","domain":[0,360],"range":[0,6.28319],"zero":false,"nice":false}},"theta2":{"field":"ang"},"radius":{"datum":1,"type":"quantitative","scale":{"type":"linear","domain":[0,1],"range":[0,136],"zero":true,"nice":false}},"radius2":{"datum":0.0972}}},
{"data":{"name":"rings"},"mark":{"type":"text","fontSize":11,"align":"center","baseline":"middle","color":"#000000"},"encoding":{"x":{"datum":0,"type":"quantitative","scale":{"type":"linear","domain":[-1.16176,3.39706],"nice":false,"zero":false},"axis":null},"y":{"field":"r","type":"quantitative","scale":{"type":"linear","domain":[-1.50735,1.14706],"nice":false,"zero":false},"axis":null},"text":{"field":"lab"}}},
{"data":{"values":[{}]},"mark":{"type":"text","text":"X","fontSize":11,"align":"center","baseline":"middle","color":"#000000"},"encoding":{"x":{"datum":0,"type":"quantitative","scale":{"type":"linear","domain":[-1.16176,3.39706],"nice":false,"zero":false},"axis":null},"y":{"datum":1.08456,"type":"quantitative","scale":{"type":"linear","domain":[-1.50735,1.14706],"nice":false,"zero":false},"axis":null}}},
{"data":{"values":[{}]},"mark":{"type":"text","text":"Y","fontSize":12,"align":"center","baseline":"middle","color":"#000000"},"encoding":{"x":{"datum":-1.05147,"type":"quantitative","scale":{"type":"linear","domain":[-1.16176,3.39706],"nice":false,"zero":false},"axis":null},"y":{"datum":0,"type":"quantitative","scale":{"type":"linear","domain":[-1.50735,1.14706],"nice":false,"zero":false},"axis":null}}},
{"data":{"name":"az"},"mark":{"type":"line","strokeWidth":1.7},"encoding":{"x":{"field":"x","type":"quantitative","scale":{"type":"linear","domain":[-1.16176,3.39706],"nice":false,"zero":false},"axis":null},"y":{"field":"y","type":"quantitative","scale":{"type":"linear","domain":[-1.50735,1.14706],"nice":false,"zero":false},"axis":null},"color":{"field":"freq","type":"nominal","scale":{"domain":["14.0","14.088","14.175","14.263","14.35"],"range":["#000000","#ff0000","#0000ff","#808000","#ff00ff"]},"legend":null},"order":{"field":"i","type":"quantitative"}}}
]},
{"layer":[
{"data":{"name":"rings"},"mark":{"type":"arc","filled":false,"strokeWidth":1.3,"strokeDash":[1.2,4.8],"theta":-1.5708,"theta2":1.5708},"encoding":{"x":{"datum":0,"type":"quantitative","scale":{"type":"linear","domain":[-3.45588,1.10294],"nice":false,"zero":false},"axis":null},"y":{"datum":0,"type":"quantitative","scale":{"type":"linear","domain":[-1.50735,1.14706],"nice":false,"zero":false},"axis":null},"radius":{"field":"r","type":"quantitative","stack":null,"scale":{"type":"linear","domain":[0,1],"range":[0,136],"zero":true,"nice":false}},"radius2":{"field":"r"},"stroke":{"condition":{"test":"datum.db == -3","value":"#ff0000"},"value":"#000000"}}},
{"data":{"name":"spokesR"},"mark":{"type":"arc","filled":false,"stroke":"#000000","strokeWidth":1.2,"strokeDash":[1.2,8.8]},"encoding":{"x":{"datum":0,"type":"quantitative","scale":{"type":"linear","domain":[-3.45588,1.10294],"nice":false,"zero":false},"axis":null},"y":{"datum":0,"type":"quantitative","scale":{"type":"linear","domain":[-1.50735,1.14706],"nice":false,"zero":false},"axis":null},"theta":{"field":"ang","type":"quantitative","stack":null,"scale":{"type":"linear","domain":[0,180],"range":[1.5708,-1.5708],"zero":false,"nice":false}},"theta2":{"field":"ang"},"radius":{"datum":1,"type":"quantitative","scale":{"type":"linear","domain":[0,1],"range":[0,136],"zero":true,"nice":false}},"radius2":{"datum":0.0972}}},
{"data":{"name":"rings"},"mark":{"type":"text","fontSize":11,"align":"center","baseline":"middle","color":"#000000"},"encoding":{"x":{"datum":0,"type":"quantitative","scale":{"type":"linear","domain":[-3.45588,1.10294],"nice":false,"zero":false},"axis":null},"y":{"field":"r","type":"quantitative","scale":{"type":"linear","domain":[-1.50735,1.14706],"nice":false,"zero":false},"axis":null},"text":{"field":"lab"}}},
{"data":{"values":[{}]},"mark":{"type":"text","text":"Z","fontSize":11,"align":"center","baseline":"middle","color":"#000000"},"encoding":{"x":{"datum":0,"type":"quantitative","scale":{"type":"linear","domain":[-3.45588,1.10294],"nice":false,"zero":false},"axis":null},"y":{"datum":1.08456,"type":"quantitative","scale":{"type":"linear","domain":[-1.50735,1.14706],"nice":false,"zero":false},"axis":null}}},
{"data":{"values":[{}]},"mark":{"type":"text","text":"X","fontSize":12,"align":"center","baseline":"middle","color":"#000000"},"encoding":{"x":{"datum":1.03309,"type":"quantitative","scale":{"type":"linear","domain":[-3.45588,1.10294],"nice":false,"zero":false},"axis":null},"y":{"datum":0,"type":"quantitative","scale":{"type":"linear","domain":[-1.50735,1.14706],"nice":false,"zero":false},"axis":null}}},
{"data":{"values":[{}]},"mark":{"type":"text","text":"13.6(dBi) = 0dB","fontSize":11,"align":"left","baseline":"middle","color":"#000000"},"encoding":{"x":{"datum":-0.99265,"type":"quantitative","scale":{"type":"linear","domain":[-3.45588,1.10294],"nice":false,"zero":false},"axis":null},"y":{"datum":-0.125,"type":"quantitative","scale":{"type":"linear","domain":[-1.50735,1.14706],"nice":false,"zero":false},"axis":null}}},
{"data":{"name":"el"},"mark":{"type":"line","strokeWidth":1.7},"encoding":{"x":{"field":"x","type":"quantitative","scale":{"type":"linear","domain":[-3.45588,1.10294],"nice":false,"zero":false},"axis":null},"y":{"field":"y","type":"quantitative","scale":{"type":"linear","domain":[-1.50735,1.14706],"nice":false,"zero":false},"axis":null},"color":{"field":"freq","type":"nominal","scale":{"domain":["14.0","14.088","14.175","14.263","14.35"],"range":["#000000","#ff0000","#0000ff","#808000","#ff00ff"]},"legend":null},"order":{"field":"i","type":"quantitative"}}}
]},
{"data":{"name":"cells"},"layer":[
{"mark":{"type":"rect","strokeWidth":1},"encoding":{"x":{"field":"col","type":"nominal","scale":{"type":"band","domain":["Freq","R","jX","Ga","F/B","ON","end"],"range":[283,699.5],"paddingInner":0,"paddingOuter":0},"axis":null},"y":{"field":"row","type":"nominal","scale":{"type":"band","domain":["head","14.0","14.088","14.175","14.263","14.35","end"],"range":[232,382.5],"paddingInner":0,"paddingOuter":0},"axis":null},"fill":{"condition":[{"test":"datum.row == 'head'","value":"#f0f0f0"},{"test":"datum.row == '14.0' && datum.col == 'Freq'","value":"#3399ff"}],"value":"#ffffff"},"stroke":{"condition":{"test":"datum.row == 'head'","value":"#a0a0a0"},"value":"#c8c8c8"}}},
{"data":{"values":[{}]},"mark":{"type":"rule","stroke":"#646464","strokeWidth":1.5},"encoding":{"x":{"datum":"Freq","type":"nominal","bandPosition":0,"scale":{"type":"band","domain":["Freq","R","jX","Ga","F/B","ON","end"],"range":[283,699.5],"paddingInner":0,"paddingOuter":0},"axis":null},"x2":{"datum":"end"},"y":{"datum":"head","type":"nominal","bandPosition":0,"scale":{"type":"band","domain":["head","14.0","14.088","14.175","14.263","14.35","end"],"range":[232,382.5],"paddingInner":0,"paddingOuter":0},"axis":null}}},
{"data":{"values":[{}]},"mark":{"type":"rule","stroke":"#646464","strokeWidth":1.5},"encoding":{"x":{"datum":"Freq","type":"nominal","bandPosition":0,"scale":{"type":"band","domain":["Freq","R","jX","Ga","F/B","ON","end"],"range":[283,699.5],"paddingInner":0,"paddingOuter":0},"axis":null},"y":{"datum":"head","type":"nominal","bandPosition":0,"scale":{"type":"band","domain":["head","14.0","14.088","14.175","14.263","14.35","end"],"range":[232,382.5],"paddingInner":0,"paddingOuter":0},"axis":null},"y2":{"datum":"end"}}},
{"transform":[{"filter":"datum.row != 'head'"}],"mark":{"type":"text","align":"left","baseline":"middle","dx":2,"fontSize":12},"encoding":{"x":{"field":"col","type":"nominal","bandPosition":0,"scale":{"type":"band","domain":["Freq","R","jX","Ga","F/B","ON","end"],"range":[283,699.5],"paddingInner":0,"paddingOuter":0},"axis":null},"y":{"field":"row","type":"nominal","bandPosition":0.5,"scale":{"type":"band","domain":["head","14.0","14.088","14.175","14.263","14.35","end"],"range":[232,382.5],"paddingInner":0,"paddingOuter":0},"axis":null},"text":{"field":"val"},"color":{"field":"row","type":"nominal","scale":{"domain":["14.0","14.088","14.175","14.263","14.35"],"range":["#000000","#ff0000","#0000ff","#808000","#ff00ff"]},"legend":null}}},
{"transform":[{"filter":"datum.row == 'head'"}],"mark":{"type":"text","align":"center","baseline":"middle","fontSize":12,"color":"#000000"},"encoding":{"x":{"field":"col","type":"nominal","bandPosition":0.5,"scale":{"type":"band","domain":["Freq","R","jX","Ga","F/B","ON","end"],"range":[283,699.5],"paddingInner":0,"paddingOuter":0},"axis":null},"y":{"field":"row","type":"nominal","bandPosition":0.5,"scale":{"type":"band","domain":["head","14.0","14.088","14.175","14.263","14.35","end"],"range":[232,382.5],"paddingInner":0,"paddingOuter":0},"axis":null},"text":{"field":"val"}}}
]},
{"data":{"name":"radio"},"layer":[
{"mark":{"type":"point","shape":"circle","size":140,"filled":false,"stroke":"#333333","strokeWidth":1,"opacity":1},"encoding":{"x":{"field":"opt","type":"nominal","scale":{"type":"point","domain":["V","H","Total","V+H"],"range":[16.7,204.5],"padding":0},"axis":null},"y":{"datum":-1.38603,"type":"quantitative","scale":{"type":"linear","domain":[-1.50735,1.14706],"nice":false,"zero":false},"axis":null}}},
{"transform":[{"filter":"datum.sel"}],"mark":{"type":"point","shape":"circle","size":36,"filled":true,"fill":"#333333","strokeWidth":0,"opacity":1},"encoding":{"x":{"field":"opt","type":"nominal","scale":{"type":"point","domain":["V","H","Total","V+H"],"range":[16.7,204.5],"padding":0},"axis":null},"y":{"datum":-1.38603,"type":"quantitative","scale":{"type":"linear","domain":[-1.50735,1.14706],"nice":false,"zero":false},"axis":null}}},
{"mark":{"type":"text","align":"left","baseline":"middle","dx":8,"fontSize":13,"color":"#000000"},"encoding":{"x":{"field":"opt","type":"nominal","scale":{"type":"point","domain":["V","H","Total","V+H"],"range":[16.7,204.5],"padding":0},"axis":null},"y":{"datum":-1.38603,"type":"quantitative","scale":{"type":"linear","domain":[-1.50735,1.14706],"nice":false,"zero":false},"axis":null},"text":{"field":"opt"}}}
]}
],
"resolve":{"scale":{"x":"independent","y":"independent","color":"independent","radius":"independent","theta":"independent"}}
}
